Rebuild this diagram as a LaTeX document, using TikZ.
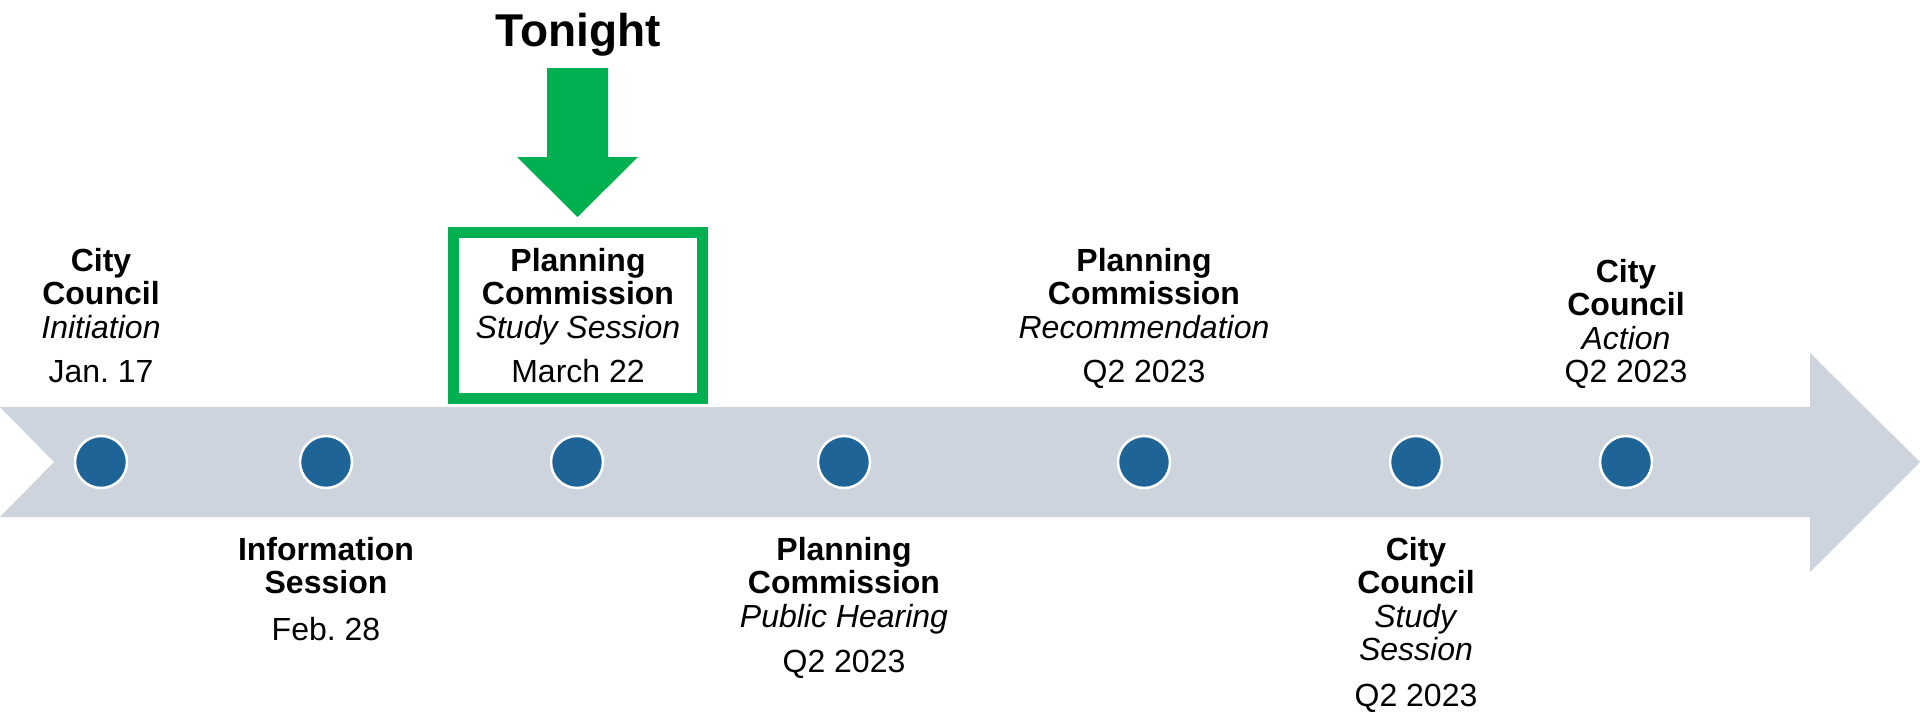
\documentclass[tikz,border=0pt]{standalone}
\usepackage{fontspec}
\setmainfont{Liberation Sans}
\frenchspacing
\definecolor{bandgrey}{HTML}{CDD4DE}
\definecolor{dotblue}{HTML}{1F6496}
\definecolor{tonightgreen}{HTML}{00B050}
% stacked event text: the node's baseline is the first line's baseline
\newcommand\evtext[1]{\begin{tabular}[t]{@{}c@{}}#1\end{tabular}}

\begin{document}
\begin{tikzpicture}[x=1pt,y=-1pt,
  dot/.style={circle,fill=dotblue,draw=white,line width=2.5pt,minimum size=52pt,inner sep=0pt},
  evlabel/.style={anchor=base,inner sep=0pt,font=\fontsize{32}{33.5}\selectfont},
]
\useasboundingbox (0,0) rectangle (1920,712);

% timeline band with notched tail and arrow head
\fill[bandgrey] (0,407) -- (1810,407) -- (1810,353) -- (1920,462) -- (1810,572)
  -- (1810,517) -- (0,517) -- (54,462) -- cycle;

% milestones
\node[dot] (d1) at (101,462) {};
\node[dot] (d2) at (326,462) {};
\node[dot] (d3) at (577,462) {};
\node[dot] (d4) at (844,462) {};
\node[dot] (d5) at (1144,462) {};
\node[dot] (d6) at (1416,462) {};
\node[dot] (d7) at (1626,462) {};

% current meeting highlight
\node[draw=tonightgreen,line width=11pt,minimum width=249pt,minimum height=166pt,inner sep=0pt]
  (box) at (578,315.5) {};

% labels above the band
\node[evlabel] (l1) at (101,271)
  {\evtext{\textbf{City}\\\textbf{Council}\\\textit{Initiation}\\[11pt]Jan. 17}};
\node[evlabel] (l3) at (578,271)
  {\evtext{\textbf{Planning}\\\textbf{Commission}\\\textit{Study Session}\\[11pt]March 22}};
\node[evlabel] (l5) at (1144,271)
  {\evtext{\textbf{Planning}\\\textbf{Commission}\\\textit{Recommendation}\\[11pt]Q2 2023}};
\node[evlabel] (l7) at (1626,282)
  {\evtext{\textbf{City}\\\textbf{Council}\\\textit{Action}\\Q2 2023}};

% labels below the band
\node[evlabel] (l2) at (326,560)
  {\evtext{\textbf{Information}\\\textbf{Session}\\[13pt]Feb. 28}};
\node[evlabel] (l4) at (844,560)
  {\evtext{\textbf{Planning}\\\textbf{Commission}\\\textit{Public Hearing}\\[12pt]Q2 2023}};
\node[evlabel] (l6) at (1416,560)
  {\evtext{\textbf{City}\\\textbf{Council}\\\textit{Study}\\\textit{Session}\\[12pt]Q2 2023}};

% "Tonight" marker
\node[anchor=base,inner sep=0pt,font=\bfseries\fontsize{46}{50}\selectfont] (tonight) at (578,46) {Tonight};
\fill[tonightgreen] (547,68) -- (608,68) -- (608,157) -- (638,157) -- (577.5,217)
  -- (517,157) -- (547,157) -- cycle;
\end{tikzpicture}
\end{document}
